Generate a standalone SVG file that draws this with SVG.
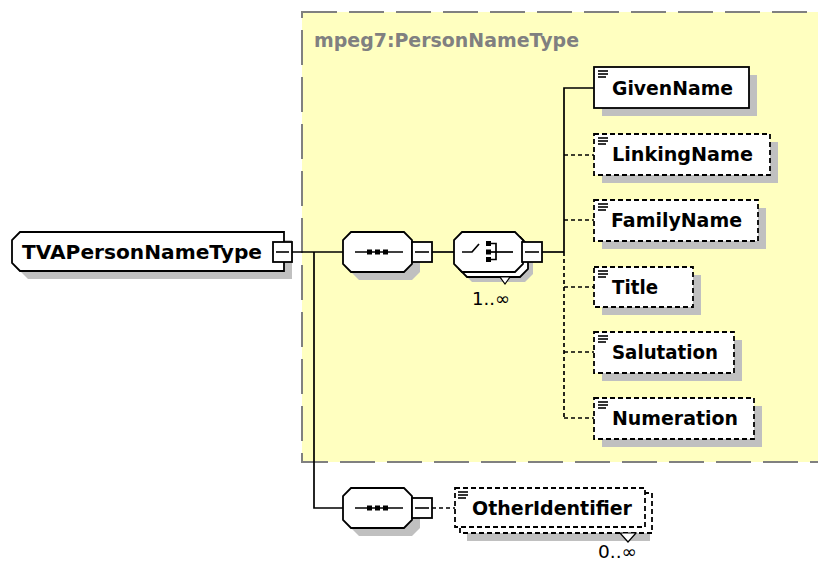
<svg xmlns="http://www.w3.org/2000/svg" width="818" height="563" viewBox="0 0 818 563">
<defs>
<style>
.lbl{font-family:"DejaVu Sans","Liberation Sans",sans-serif;font-weight:bold;font-size:20px;fill:#000}
.occ{font-family:"DejaVu Sans","Liberation Sans",sans-serif;font-size:18px;fill:#000}
.ttl{font-family:"DejaVu Sans","Liberation Sans",sans-serif;font-weight:bold;font-size:20px;fill:#808080}
.shadow{fill:#c0c0c0;stroke:none}
.node{fill:#fff;stroke:#000;stroke-width:1.8}
.opt{fill:#fff;stroke:#000;stroke-width:1.8;stroke-dasharray:5,3}
.con{fill:none;stroke:#000;stroke-width:1.7}
.dcon{fill:none;stroke:#000;stroke-width:1.7;stroke-dasharray:4,3}
.ico{stroke:#000;stroke-width:1.6}
</style>
</defs>
<rect width="818" height="563" fill="#fff"/>

<g id="group-PersonNameType">
<rect x="302" y="12" width="540" height="450" fill="#ffffc0" stroke="#808080" stroke-width="2" stroke-dasharray="35,12"/>
<text class="ttl" x="314" y="47" textLength="265" lengthAdjust="spacingAndGlyphs">mpeg7:PersonNameType</text>
</g>

<g id="connectors">
<line class="con" x1="292" y1="252" x2="343" y2="252"/>
<polyline class="con" points="314,252 314,508 343,508"/>
<line class="con" x1="432" y1="252" x2="454" y2="252"/>
<line class="con" x1="542" y1="252" x2="564" y2="252"/>
<polyline class="con" points="594,88 564,88 564,252"/>
<line class="dcon" x1="564" y1="252" x2="564" y2="418"/>
<line class="dcon" x1="564" y1="155" x2="594" y2="155"/>
<line class="dcon" x1="564" y1="220" x2="594" y2="220"/>
<line class="dcon" x1="564" y1="287" x2="594" y2="287"/>
<line class="dcon" x1="564" y1="352" x2="594" y2="352"/>
<line class="dcon" x1="564" y1="418" x2="594" y2="418"/>
<line class="dcon" x1="432" y1="508" x2="455" y2="508"/>
</g>

<g id="TVAPersonNameType">
<path class="shadow" d="M28,240 H292 V279 H28 L20,271 V248 Z"/>
<path class="node" d="M20,232 H284 V271 H20 L12,263 V240 Z"/>
<text class="lbl" x="22" y="259" textLength="240" lengthAdjust="spacingAndGlyphs">TVAPersonNameType</text>
<rect class="node" x="273" y="242" width="19" height="20"/>
<line class="ico" x1="276" y1="252" x2="289" y2="252"/>
</g>

<g id="sequence1">
<path class="shadow" d="M359,240 H412 L420,248 V272 L412,280 H359 L351,272 V248 Z"/>
<path class="node" d="M351,232 H404 L412,240 V264 L404,272 H351 L343,264 V240 Z"/>
<line class="ico" x1="355" y1="252" x2="403" y2="252"/>
<rect x="367" y="249.5" width="5" height="5" fill="#000"/>
<rect x="375" y="249.5" width="5" height="5" fill="#000"/>
<rect x="383" y="249.5" width="5" height="5" fill="#000"/>
<rect class="node" x="412" y="242" width="20" height="20"/>
<line class="ico" x1="415" y1="252" x2="429" y2="252"/>
</g>

<g id="choice">
<path class="shadow" d="M472,242 H525 L533,250 V274 L525,282 H472 L464,274 V250 Z"/>
<path class="node" d="M467,237 H520 L528,245 V269 L520,277 H467 L459,269 V245 Z"/>
<path class="node" d="M462,232 H515 L523,240 V264 L515,272 H462 L454,264 V240 Z"/>
<path d="M500,277 L510,277 L505,284 Z" fill="#fff" stroke="#000" stroke-width="1.2"/>
<polyline class="con" points="462,252 472,252 479,244"/>
<rect x="486" y="241" width="5" height="5" fill="#000"/>
<rect x="486" y="249.5" width="5" height="5" fill="#000"/>
<rect x="486" y="257" width="5" height="5" fill="#000"/>
<polyline class="con" points="491,243.5 496,243.5 496,259.5 491,259.5"/>
<line class="con" x1="491" y1="252" x2="513" y2="252"/>
<rect class="node" x="522" y="242" width="20" height="20"/>
<line class="ico" x1="525" y1="252" x2="539" y2="252"/>
<text class="occ" x="472" y="305" textLength="38" lengthAdjust="spacingAndGlyphs">1..∞</text>
</g>

<g id="GivenName">
<rect class="shadow" x="602" y="75" width="155" height="41"/>
<rect class="node" x="594" y="67" width="155" height="41"/>
<g class="ico"><line x1="598" y1="71" x2="608" y2="71"/><line x1="598" y1="74" x2="608" y2="74"/><line x1="598" y1="77" x2="606" y2="77"/></g>
<text class="lbl" x="612" y="95" textLength="121" lengthAdjust="spacingAndGlyphs">GivenName</text>
</g>

<g id="LinkingName">
<rect class="shadow" x="602" y="142" width="176" height="41"/>
<rect class="opt" x="594" y="134" width="176" height="41"/>
<g class="ico"><line x1="598" y1="138" x2="608" y2="138"/><line x1="598" y1="141" x2="608" y2="141"/><line x1="598" y1="144" x2="606" y2="144"/></g>
<text class="lbl" x="612" y="161" textLength="141" lengthAdjust="spacingAndGlyphs">LinkingName</text>
</g>

<g id="FamilyName">
<rect class="shadow" x="602" y="208" width="164" height="41"/>
<rect class="opt" x="594" y="200" width="164" height="41"/>
<g class="ico"><line x1="598" y1="204" x2="608" y2="204"/><line x1="598" y1="207" x2="608" y2="207"/><line x1="598" y1="210" x2="606" y2="210"/></g>
<text class="lbl" x="611" y="227" textLength="131" lengthAdjust="spacingAndGlyphs">FamilyName</text>
</g>

<g id="Title">
<rect class="shadow" x="602" y="275" width="99" height="40"/>
<rect class="opt" x="594" y="267" width="99" height="40"/>
<g class="ico"><line x1="598" y1="271" x2="608" y2="271"/><line x1="598" y1="274" x2="608" y2="274"/><line x1="598" y1="277" x2="606" y2="277"/></g>
<text class="lbl" x="612" y="294" textLength="46" lengthAdjust="spacingAndGlyphs">Title</text>
</g>

<g id="Salutation">
<rect class="shadow" x="602" y="340" width="140" height="41"/>
<rect class="opt" x="594" y="332" width="140" height="41"/>
<g class="ico"><line x1="598" y1="336" x2="608" y2="336"/><line x1="598" y1="339" x2="608" y2="339"/><line x1="598" y1="342" x2="606" y2="342"/></g>
<text class="lbl" x="612" y="359" textLength="106" lengthAdjust="spacingAndGlyphs">Salutation</text>
</g>

<g id="Numeration">
<rect class="shadow" x="602" y="406" width="160" height="41"/>
<rect class="opt" x="594" y="398" width="160" height="41"/>
<g class="ico"><line x1="598" y1="402" x2="608" y2="402"/><line x1="598" y1="405" x2="608" y2="405"/><line x1="598" y1="408" x2="606" y2="408"/></g>
<text class="lbl" x="612" y="425" textLength="126" lengthAdjust="spacingAndGlyphs">Numeration</text>
</g>

<g id="sequence2">
<path class="shadow" d="M359,496 H412 L420,504 V528 L412,536 H359 L351,528 V504 Z"/>
<path class="node" d="M351,488 H404 L412,496 V520 L404,528 H351 L343,520 V496 Z"/>
<line class="ico" x1="355" y1="508" x2="403" y2="508"/>
<rect x="367" y="505.5" width="5" height="5" fill="#000"/>
<rect x="375" y="505.5" width="5" height="5" fill="#000"/>
<rect x="383" y="505.5" width="5" height="5" fill="#000"/>
<rect class="node" x="412" y="498" width="20" height="20"/>
<line class="ico" x1="415" y1="508" x2="429" y2="508"/>
</g>

<g id="OtherIdentifier">
<rect class="shadow" x="467" y="500" width="183" height="41"/>
<rect class="opt" x="460" y="493" width="192" height="40"/>
<rect class="opt" x="455" y="488" width="190" height="39"/>
<path d="M620,533 L636,533 L628,542 Z" fill="#fff" stroke="#000" stroke-width="1.2"/>
<g class="ico"><line x1="458" y1="492" x2="468" y2="492"/><line x1="458" y1="495" x2="468" y2="495"/><line x1="458" y1="498" x2="466" y2="498"/></g>
<text class="lbl" x="472" y="515" textLength="160" lengthAdjust="spacingAndGlyphs">OtherIdentifier</text>
<text class="occ" x="598" y="558" textLength="39" lengthAdjust="spacingAndGlyphs">0..∞</text>
</g>
</svg>
